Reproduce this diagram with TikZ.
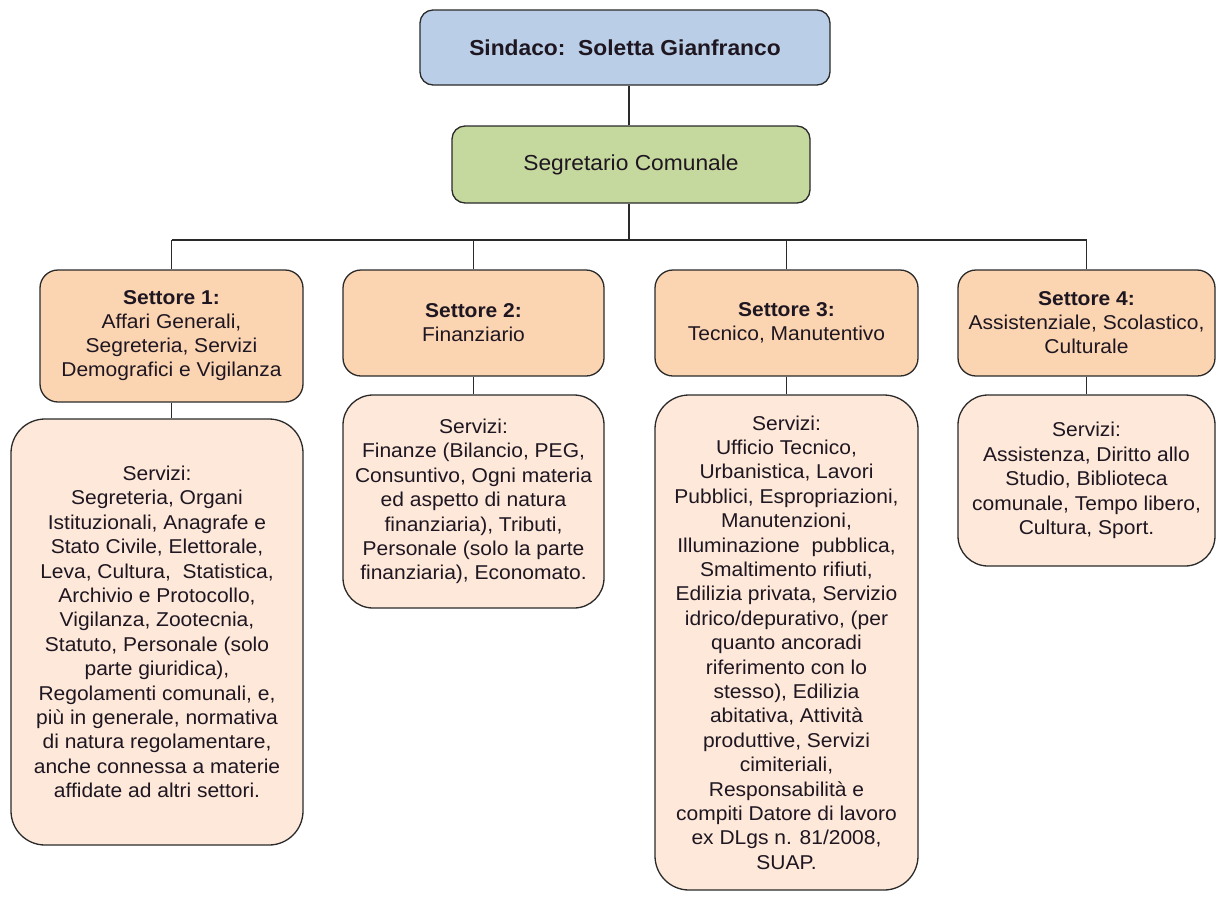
\documentclass[tikz,border=0pt]{standalone}
\usepackage{fontspec}
\setmainfont[FakeStretch=1.05]{Liberation Sans}
\definecolor{sindfill}{HTML}{BACEE7}
\definecolor{segfill}{HTML}{C5D89E}
\definecolor{setfill}{HTML}{FBD4B2}
\definecolor{servfill}{HTML}{FDE8DA}
\definecolor{edge}{HTML}{2A2A2A}
\definecolor{txt}{HTML}{1E1620}
\begin{document}
\begin{tikzpicture}[x=1pt,y=-1pt,
  box/.style={draw=edge,line width=1.3pt,align=center,text=txt,inner sep=0pt,anchor=center},
  topbox/.style={box,fill=sindfill,rounded corners=13pt,font=\fontsize{21.7}{25}\selectfont\bfseries},
  segbox/.style={box,fill=segfill,rounded corners=13pt,font=\fontsize{21.7}{25}\selectfont},
  setbox/.style={box,fill=setfill,rounded corners=18pt,font=\fontsize{20}{24}\selectfont},
  servbox/.style={box,fill=servfill,rounded corners=34pt,font=\fontsize{20}{24.4}\selectfont},
  conn/.style={draw=edge,line width=1.3pt}]
\useasboundingbox[fill=white] (0,0) rectangle (1216,898);

\node[topbox,minimum width=410pt,minimum height=75pt] (sind) at (625,47.5) {Sindaco:\ \ Soletta Gianfranco};
\node[segbox,minimum width=358pt,minimum height=77pt] (seg) at (631,164.5) {Segretario Comunale};

\node[setbox,minimum width=263pt,minimum height=132pt] (s1) at (171.5,336) {\textbf{Settore 1:}\\Affari Generali,\\Segreteria, Servizi\\Demografici e Vigilanza};
\node[setbox,minimum width=261pt,minimum height=106pt] (s2) at (473.5,323) {\textbf{Settore 2:}\\Finanziario};
\node[setbox,minimum width=263pt,minimum height=106pt] (s3) at (786.5,323) {\textbf{Settore 3:}\\Tecnico, Manutentivo};
\node[setbox,minimum width=257pt,minimum height=106pt] (s4) at (1086.5,323) {\textbf{Settore 4:}\\Assistenziale, Scolastico,\\Culturale};

\node[servbox,minimum width=292pt,minimum height=426pt] (v1) at (157,632) {Servizi:\\Segreteria, Organi\\Istituzionali, Anagrafe e\\Stato Civile, Elettorale,\\Leva, Cultura,\ \ Statistica,\\Archivio e Protocollo,\\Vigilanza, Zootecnia,\\Statuto, Personale (solo\\parte giuridica),\\Regolamenti comunali, e,\\più in generale, normativa\\di natura regolamentare,\\anche connessa a materie\\affidate ad altri settori.};
\node[servbox,rounded corners=30pt,minimum width=261pt,minimum height=213pt] (v2) at (473.5,501.5) {Servizi:\\Finanze (Bilancio, PEG,\\Consuntivo, Ogni materia\\ed aspetto di natura\\finanziaria), Tributi,\\Personale (solo la parte\\finanziaria), Economato.};
\node[servbox,minimum width=263pt,minimum height=495pt] (v3) at (786.5,642.5) {Servizi:\\Ufficio Tecnico,\\Urbanistica, Lavori\\Pubblici, Espropriazioni,\\Manutenzioni,\\Illuminazione\ \ pubblica,\\Smaltimento rifiuti,\\Edilizia privata, Servizio\\idrico/depurativo, (per\\quanto ancoradi\\riferimento con lo\\stesso), Edilizia\\abitativa, Attività\\produttive, Servizi\\cimiteriali,\\Responsabilità e\\compiti Datore di lavoro\\ex DLgs n. 81/2008,\\SUAP.};
\node[servbox,rounded corners=30pt,minimum width=257pt,minimum height=171pt] (v4) at (1086.5,480.5) {Servizi:\\Assistenza, Diritto allo\\Studio, Biblioteca\\comunale, Tempo libero,\\Cultura, Sport.};

\coordinate (bus) at (629,240);
\draw[conn] (seg.north -| bus) -- (sind.south -| bus);
\draw[conn] (seg.south -| bus) -- (bus);
\draw[conn] (s1.north |- bus) -- (s4.north |- bus);
\draw[conn] (s1.north |- bus) -- (s1.north);
\draw[conn] (s2.north |- bus) -- (s2.north);
\draw[conn] (s3.north |- bus) -- (s3.north);
\draw[conn] (s4.north |- bus) -- (s4.north);
\draw[conn] (s1.south) -- (v1.north -| s1.south);
\draw[conn] (s2.south) -- (v2.north);
\draw[conn] (s3.south) -- (v3.north);
\draw[conn] (s4.south) -- (v4.north);
\end{tikzpicture}
\end{document}
